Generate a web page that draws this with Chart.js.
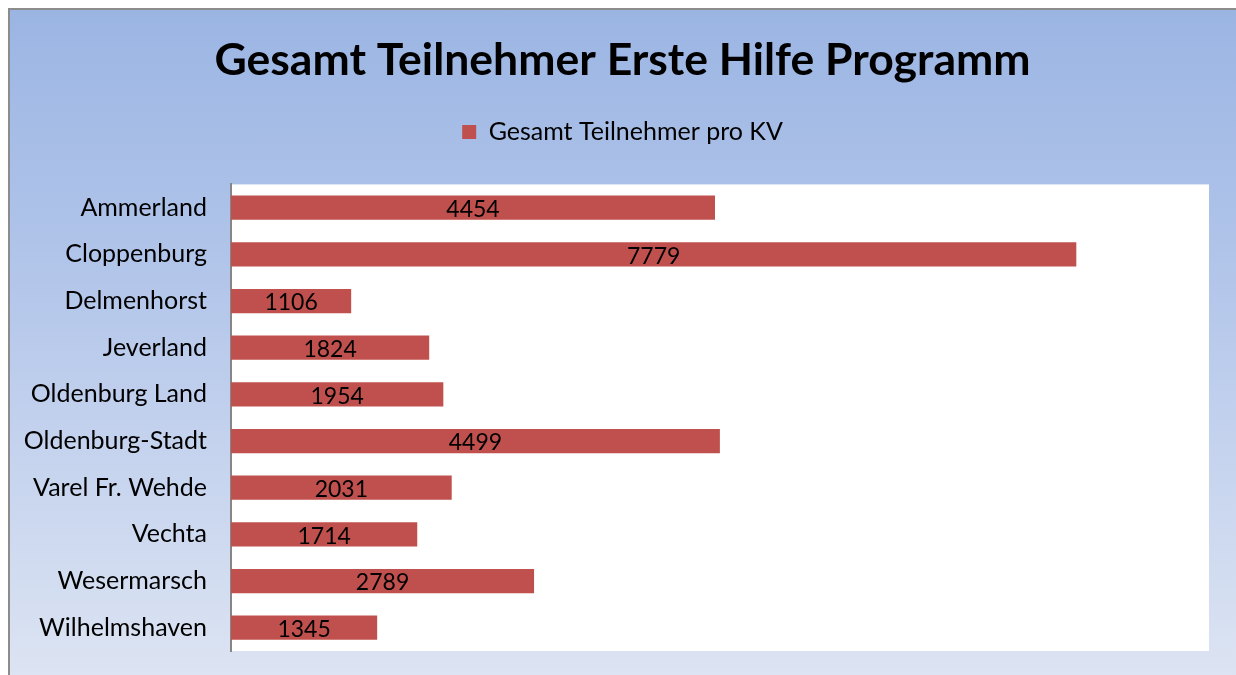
<!DOCTYPE html>
<html lang="de">
<head>
    <meta charset="UTF-8">
    <title>Gesamt Teilnehmer Erste Hilfe Programm</title>
    <style>
        body {
            margin: 0;
            padding: 0;
            background: #fff;
            overflow: hidden;
        }

        .frame {
            position: absolute;
            left: 8px;
            top: 8px;
            width: 1240px;
            height: 680px;
            border-left: 2px solid #8c8c8c;
            border-top: 2px solid #8c8c8c;
            background: linear-gradient(to bottom, #9bb5e3 0%, #b3c6ea 40%, #dee5f3 100%);
        }

        .chart-box {
            position: absolute;
            left: 0;
            top: 0;
            width: 1236px;
            height: 675px;
        }
    </style>
</head>
<body>
    <div class="frame"></div>
    <div class="chart-box">
        <canvas id="teilnehmerChart"></canvas>
    </div>
    <script src="https://cdn.jsdelivr.net/npm/chart.js"></script>
    <script>
        const kreisverbaende = ['Ammerland', 'Cloppenburg', 'Delmenhorst', 'Jeverland', 'Oldenburg Land',
            'Oldenburg-Stadt', 'Varel Fr. Wehde', 'Vechta', 'Wesermarsch', 'Wilhelmshaven'];
        const teilnehmer = [4454, 7779, 1106, 1824, 1954, 4499, 2031, 1714, 2789, 1345];
        const serienName = 'Gesamt Teilnehmer pro KV';

        const schrift = "Lato, 'Open Sans', sans-serif";

        // weisser Hintergrund fuer die Zeichenflaeche
        const plotHintergrund = {
            id: 'plotHintergrund',
            beforeDraw(chart) {
                const { ctx, chartArea } = chart;
                ctx.save();
                ctx.fillStyle = '#ffffff';
                ctx.fillRect(chartArea.left, chartArea.top, chartArea.right - chartArea.left, chartArea.bottom - chartArea.top);
                ctx.restore();
            }
        };

        // Titel und Legende auf die Mitte des Rahmens schieben
        const mitteVerschieben = {
            id: 'mitteVerschieben',
            afterLayout(chart) {
                [chart.titleBlock, chart.legend].forEach(box => {
                    if (box) {
                        box.left += 18;
                        box.right += 18;
                    }
                });
            }
        };

        // Werte mittig in die Balken schreiben
        const balkenWerte = {
            id: 'balkenWerte',
            afterDatasetsDraw(chart) {
                const { ctx } = chart;
                const meta = chart.getDatasetMeta(0);
                ctx.save();
                ctx.font = '23px ' + schrift;
                ctx.fillStyle = '#000';
                ctx.textAlign = 'center';
                ctx.textBaseline = 'middle';
                meta.data.forEach((bar, i) => {
                    const x = (bar.base + bar.x) / 2;
                    ctx.fillText(chart.data.datasets[0].data[i], x, bar.y + 2);
                });
                ctx.restore();
            }
        };

        const ctx = document.getElementById('teilnehmerChart').getContext('2d');
        new Chart(ctx, {
            type: 'bar',
            data: {
                labels: kreisverbaende,
                datasets: [{
                    label: serienName,
                    data: teilnehmer,
                    backgroundColor: '#c0504d',
                    borderWidth: 0,
                    barPercentage: 0.52,
                    categoryPercentage: 1
                }]
            },
            options: {
                indexAxis: 'y',
                responsive: true,
                maintainAspectRatio: false,
                animation: false,
                layout: {
                    padding: { left: 0, right: 27, top: 0, bottom: 24 }
                },
                scales: {
                    x: {
                        min: 0,
                        max: 9000,
                        position: 'top',
                        display: true,
                        grid: { display: false, drawTicks: false },
                        border: { display: false },
                        ticks: { display: false },
                        // nur Abstand zwischen Legende und Zeichenflaeche
                        afterFit(scale) {
                            scale.height = 30;
                        }
                    },
                    y: {
                        grid: { display: false, drawTicks: false },
                        border: { display: true, color: '#868686', width: 2 },
                        ticks: {
                            color: '#000',
                            padding: 24,
                            font: { family: schrift, size: 25 }
                        },
                        afterFit(scale) {
                            scale.width = 231;
                            scale.paddingTop = 0;
                            scale.paddingBottom = 0;
                        }
                    }
                },
                plugins: {
                    title: {
                        display: true,
                        text: 'Gesamt Teilnehmer Erste Hilfe Programm',
                        color: '#000',
                        font: { family: schrift, size: 44.5, weight: 'bold' },
                        padding: { top: 34, bottom: 32 }
                    },
                    legend: {
                        display: true,
                        labels: {
                            color: '#000',
                            boxWidth: 14,
                            boxHeight: 14,
                            padding: 0,
                            font: { family: schrift, size: 25 }
                        }
                    },
                    tooltip: { enabled: false }
                }
            },
            plugins: [plotHintergrund, mitteVerschieben, balkenWerte]
        });
    </script>
</body>
</html>
